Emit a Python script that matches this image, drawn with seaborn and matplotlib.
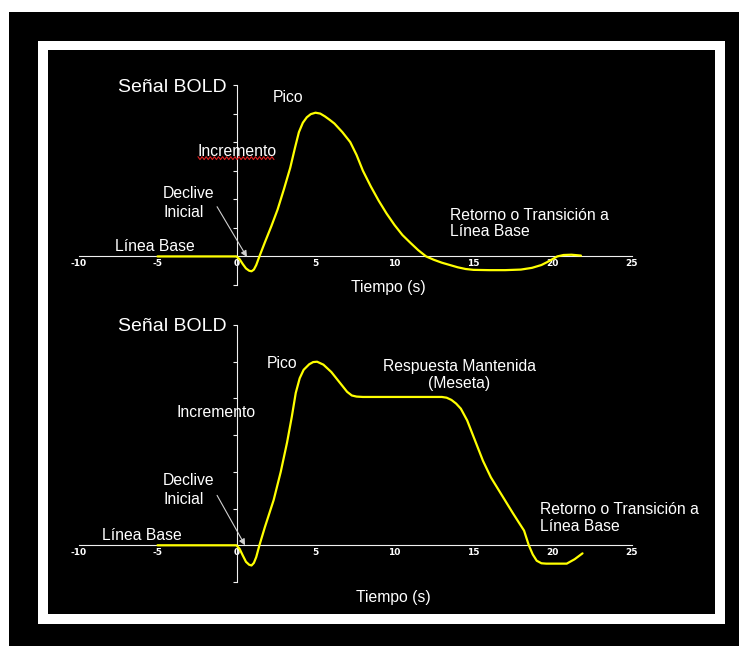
import numpy as np
import matplotlib
matplotlib.use("Agg")
import matplotlib.pyplot as plt
from matplotlib.patches import Rectangle
import seaborn as sns

# ---------------- data ----------------
x_ticks = [-10, -5, 0, 5, 10, 15, 20, 25]
x_tick_labels = ["-10", "-5", "0", "5", "10", "15", "20", "25"]
y_ticks = [-1, 0, 1, 2, 3, 4, 5, 6]

t_top = [-5, 0, 0.2, 0.4, 0.6, 0.8, 0.95, 1.1, 1.25, 1.45, 1.8, 2.2, 2.6, 3.0,
         3.4, 3.7, 3.95, 4.2, 4.45, 4.7, 5.0, 5.3, 5.6, 5.9, 6.2, 6.7, 7.2, 7.6,
         8.0, 8.5, 9.0, 9.5, 10.0, 10.5, 11.0, 11.5, 12.0, 12.5, 13.0, 13.5, 14.0,
         14.5, 15.0, 16.0, 17.0, 18.0, 18.7, 19.3, 19.8, 20.3, 20.7, 21.2, 21.8]
y_top = [0, 0, -0.1, -0.27, -0.42, -0.5, -0.52, -0.46, -0.3, 0.0, 0.5, 1.05,
         1.64, 2.35, 3.1, 3.8, 4.35, 4.68, 4.87, 4.98, 5.03, 5.0, 4.9, 4.78, 4.65,
         4.35, 4.0, 3.55, 3.0, 2.45, 1.95, 1.5, 1.1, 0.75, 0.48, 0.22, 0.0, -0.12,
         -0.22, -0.3, -0.38, -0.44, -0.47, -0.48, -0.48, -0.46, -0.4, -0.3, -0.16,
         0.0, 0.05, 0.06, 0.03]

t_bot = [-5, 0, 0.2, 0.4, 0.6, 0.8, 0.95, 1.1, 1.25, 1.45, 1.8, 2.35, 2.8, 3.2,
         3.5, 3.75, 4.0, 4.25, 4.6, 4.85, 5.1, 5.5, 6.0, 6.5, 7.0, 7.3, 7.6, 8.0,
         13.0, 13.3, 13.6, 13.9, 14.2, 14.6, 15.1, 15.6, 16.1, 16.6, 17.1, 17.5,
         17.9, 18.2, 18.5, 18.75, 19.0, 19.3, 19.6, 20.9, 21.4, 21.9]
y_bot = [0, 0, -0.1, -0.28, -0.45, -0.53, -0.55, -0.48, -0.32, 0.0, 0.5, 1.23,
         2.0, 2.8, 3.5, 4.15, 4.55, 4.78, 4.93, 4.99, 5.0, 4.92, 4.72, 4.45, 4.18,
         4.08, 4.05, 4.04, 4.04, 4.02, 3.96, 3.86, 3.72, 3.4, 2.85, 2.3, 1.85,
         1.5, 1.15, 0.87, 0.6, 0.4, 0.0, -0.25, -0.42, -0.49, -0.5, -0.5, -0.38,
         -0.22]

# ---------------- style ----------------
sns.set_style("white")
plt.rcParams["font.family"] = ["Liberation Sans", "DejaVu Sans"]

W, H = 739, 646
fig = plt.figure(figsize=(W / 100, H / 100), dpi=100)
fig.patch.set_facecolor("black")


def px_rect(x0, y0, x1, y1, color):
    fig.add_artist(Rectangle((x0 / W, 1 - y1 / H), (x1 - x0) / W, (y1 - y0) / H,
                             transform=fig.transFigure, facecolor=color,
                             edgecolor="none", zorder=-10))


# outer white strips and framed panel
px_rect(0, 0, W, 12, "white")
px_rect(0, 0, 9, H, "white")
px_rect(38, 41, 725, 624, "white")
px_rect(48, 50, 715, 614, "black")

AX_L, AX_R = 78.5, 631.5
ANN_FS = 11.3
LINE_COL = "#ffff00"
AXIS_COL = "#f0f0f0"


def make_axes(y_top_px, y_bot_px):
    ax = fig.add_axes([AX_L / W, 1 - y_bot_px / H, (AX_R - AX_L) / W,
                       (y_bot_px - y_top_px) / H])
    ax.set_facecolor("none")
    ax.set_xlim(-10, 25)
    ax.set_ylim(-1, 6)
    for s in ["top", "right"]:
        ax.spines[s].set_visible(False)
    ax.spines["left"].set_position(("data", 0))
    ax.spines["bottom"].set_position(("data", 0))
    for s in ["left", "bottom"]:
        ax.spines[s].set_color(AXIS_COL)
        ax.spines[s].set_linewidth(0.8)
        ax.spines[s].set_zorder(1)
    ax.set_xticks(x_ticks)
    ax.set_xticklabels(x_tick_labels, fontweight="bold", family="DejaVu Sans")
    ax.set_yticks(y_ticks)
    ax.set_yticklabels([])
    ax.tick_params(axis="x", direction="in", length=3, width=0.8, colors=AXIS_COL,
                   labelsize=6.5, pad=2, labelcolor="white")
    ax.tick_params(axis="y", direction="out", length=3, width=0.8, colors=AXIS_COL,
                   left=True)
    ax.set_xlabel("")
    ax.set_ylabel("")
    ax.grid(False)
    return ax


def txt(ax, x, y, s, fs=ANN_FS, **kw):
    ax.text(x, y, s, color="white", fontsize=fs, **kw)


def arrow(ax, x0, y0, x1, y1):
    ax.annotate("", xy=(x1, y1), xytext=(x0, y0),
                arrowprops=dict(arrowstyle="-|>", color="#d0d0d0", lw=0.8,
                                mutation_scale=9, shrinkA=0, shrinkB=0,
                                facecolor="white"), zorder=4)


# ---------------- top chart ----------------
ax1 = make_axes(85, 285)
sns.lineplot(x=t_top, y=y_top, ax=ax1, color=LINE_COL, linewidth=1.6,
             sort=False, legend=False, estimator=None, zorder=3)
txt(ax1, -0.6, 5.9, "Señal BOLD", fs=14, ha="right", va="center")
txt(ax1, 2.3, 5.58, "Pico", ha="left", va="center")
txt(ax1, -2.44, 3.68, "Incremento", ha="left", va="center")
# red spell-check squiggle under "Incremento"
sq_x = np.arange(-2.44, 2.5, 0.13)
sq_y = 3.44 + np.where(np.arange(len(sq_x)) % 2 == 0, 0.05, -0.05)
ax1.plot(sq_x, sq_y, color="#e02020", lw=0.8, clip_on=False)
txt(ax1, -4.65, 1.88, "Declive\nInicial", ha="left", va="center", linespacing=1.3)
arrow(ax1, -1.23, 1.74, 0.66, -0.02)
txt(ax1, -7.69, 0.36, "Línea Base", ha="left", va="center")
txt(ax1, 13.5, 1.15, "Retorno o Transición a\nLínea Base", ha="left",
    va="center", linespacing=1.15)
txt(ax1, 9.6, -1.08, "Tiempo (s)", ha="center", va="center")

# ---------------- bottom chart ----------------
ax2 = make_axes(325, 582)
sns.lineplot(x=t_bot, y=y_bot, ax=ax2, color=LINE_COL, linewidth=1.6,
             sort=False, legend=False, estimator=None, zorder=3)
txt(ax2, -0.6, 5.97, "Señal BOLD", fs=14, ha="right", va="center")
txt(ax2, 1.93, 4.94, "Pico", ha="left", va="center")
txt(ax2, -3.77, 3.63, "Incremento", ha="left", va="center")
txt(ax2, -4.65, 1.5, "Declive\nInicial", ha="left", va="center", linespacing=1.3)
arrow(ax2, -1.23, 1.36, 0.54, 0.0)
txt(ax2, -8.5, 0.27, "Línea Base", ha="left", va="center")
txt(ax2, 14.1, 4.64, "Respuesta Mantenida\n(Meseta)", ha="center", va="center",
    multialignment="center", linespacing=1.15)
txt(ax2, 19.2, 0.74, "Retorno o Transición a\nLínea Base", ha="left",
    va="center", linespacing=1.15)
txt(ax2, 9.9, -1.42, "Tiempo (s)", ha="center", va="center")

fig.savefig("out.png", dpi=100, facecolor=fig.get_facecolor())
